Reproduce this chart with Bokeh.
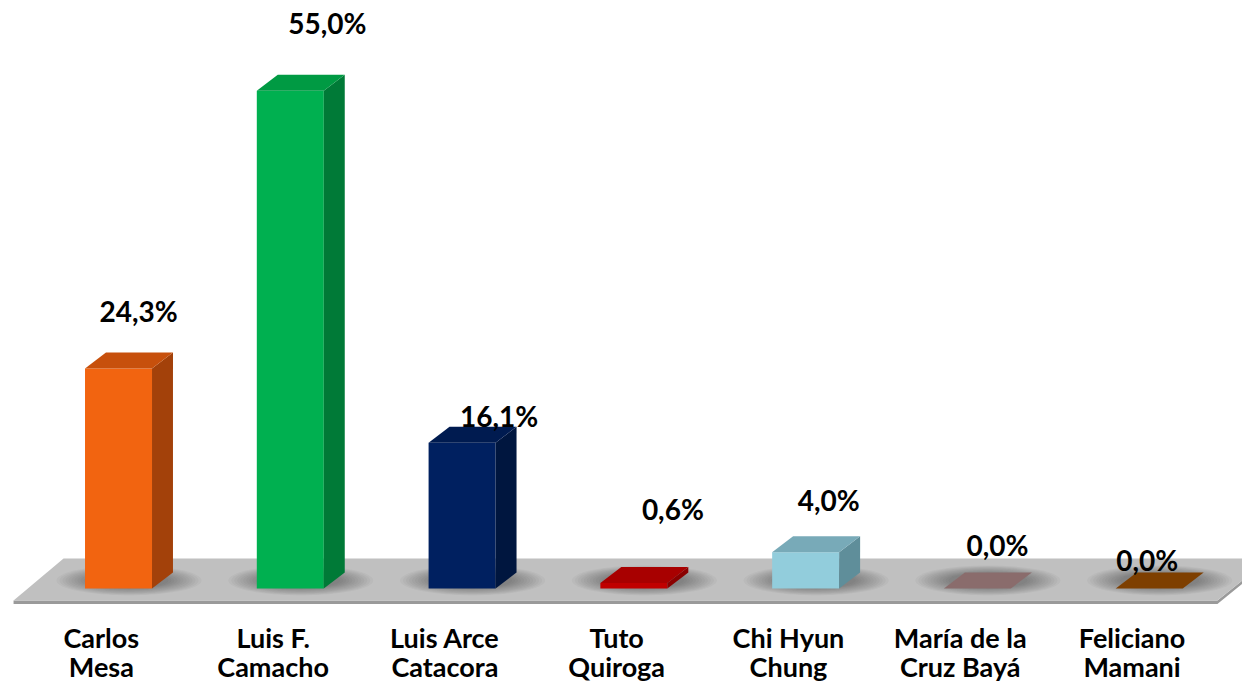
from bokeh.plotting import figure
from bokeh.models import ColumnDataSource, Range1d
from bokeh.core.properties import value
from bokeh.embed import file_html
from bokeh.resources import INLINE
import numpy as np

# ---------------- data ----------------
label_line1 = ["Carlos", "Luis F.", "Luis Arce", "Tuto", "Chi Hyun", "María de la", "Feliciano"]
label_line2 = ["Mesa", "Camacho", "Catacora", "Quiroga", "Chung", "Cruz Bayá", "Mamani"]
percent = [24.3, 55.0, 16.1, 0.6, 4.0, 0.0, 0.0]

# ---------------- styles ----------------
front_colors = ["#F26410", "#00B050", "#002060", "#C00000", "#92CDDC", "#9C7A7A", "#9A4C00"]
side_colors = ["#A3410A", "#007A37", "#00163F", "#8A0000", "#5F8E9A", "#7A5E5E", "#6E3600"]
top_colors = ["#C7500C", "#009A43", "#001B50", "#A80000", "#78AAB8", "#8A6C6C", "#7E3F00"]
# value-label offsets in screen pixels (x right, y down)
lab_dx = [20, 37, 37, 39, 23, 20, -2]
lab_dy = [-58, -68, -27, -74, -52, -43, -28]

FONT = "Lato"

n = len(percent)
xs = np.arange(n, dtype=float)
vals = np.array(percent, dtype=float)
w = 0.195      # half width of a bar (category units)
ddx = 0.122    # depth offset x (category units)
ddy = 1.77     # depth offset y (percent units)

p = figure(width=1242, height=684,
           x_range=Range1d(-0.687, 6.543), y_range=Range1d(-10.61, 64.97),
           x_axis_location=None, y_axis_location=None,
           toolbar_location=None, output_backend="svg", min_border=0)
p.grid.visible = False
p.outline_line_color = None
p.background_fill_color = "white"
p.border_fill_color = "white"

# floor (thin side strip, then top)
fl_front, fl_back, fl_thick = -1.33, 3.31, 0.38
fl_l_front, fl_l_back, fl_r_front, fl_r_back = -0.611, -0.32, 6.397, 6.70
p.patch([fl_l_front, fl_r_front, fl_r_back, fl_r_back, fl_r_front, fl_l_front],
        [fl_front, fl_front, fl_back, fl_back - fl_thick, fl_front - fl_thick, fl_front - fl_thick],
        fill_color="#9A9A9A", line_color=None)
p.patch([fl_l_front, fl_r_front, fl_r_back, fl_l_back],
        [fl_front, fl_front, fl_back, fl_back],
        fill_color="#C0C0C0", line_color=None)

# soft shadows around each bar base (many faint layers for a blur)
sh_x = xs + ddx / 2
sh_y = np.full(n, ddy / 2)
for k in range(12):
    sw = 145 - k * 6
    shh = 30 - k * 1.4
    p.ellipse(x=sh_x, y=sh_y, width=sw, height=shh, width_units="screen",
              height_units="screen", fill_color="#202020", fill_alpha=0.035, line_color=None)

# front faces
src = ColumnDataSource(dict(left=xs - w, right=xs + w, top=vals, bottom=np.zeros(n),
                            color=front_colors))
p.quad(left="left", right="right", top="top", bottom="bottom", fill_color="color",
       line_color=None, source=src)

# side faces
side_x = [[x + w, x + w + ddx, x + w + ddx, x + w] for x in xs]
side_y = [[0, ddy, v + ddy, v] for v in vals]
p.patches(side_x, side_y, fill_color=side_colors, line_color=None)

# top faces
top_x = [[x - w, x + w, x + w + ddx, x - w + ddx] for x in xs]
top_y = [[v, v, v + ddy, v + ddy] for v in vals]
p.patches(top_x, top_y, fill_color=top_colors, line_color=None)

# value labels
val_src = ColumnDataSource(dict(x=xs, y=vals,
                                t=[f"{v:.1f}%".replace(".", ",") for v in vals],
                                dx=lab_dx, dy=lab_dy))
p.text(x="x", y="y", text="t", x_offset="dx", y_offset="dy", source=val_src,
       text_font=value(FONT), text_font_style="bold", text_font_size="28px",
       text_color="black", text_align="center", text_baseline="middle")

# category labels (two lines)
cat_x = xs - 0.10
p.text(x=cat_x, y=[-5.45] * n, text=label_line1,
       text_font=value(FONT), text_font_style="bold", text_font_size="27px",
       text_color="black", text_align="center", text_baseline="alphabetic")
p.text(x=cat_x, y=[-8.65] * n, text=label_line2,
       text_font=value(FONT), text_font_style="bold", text_font_size="27px",
       text_color="black", text_align="center", text_baseline="alphabetic")

open("out.html", "w").write(file_html(p, INLINE))
